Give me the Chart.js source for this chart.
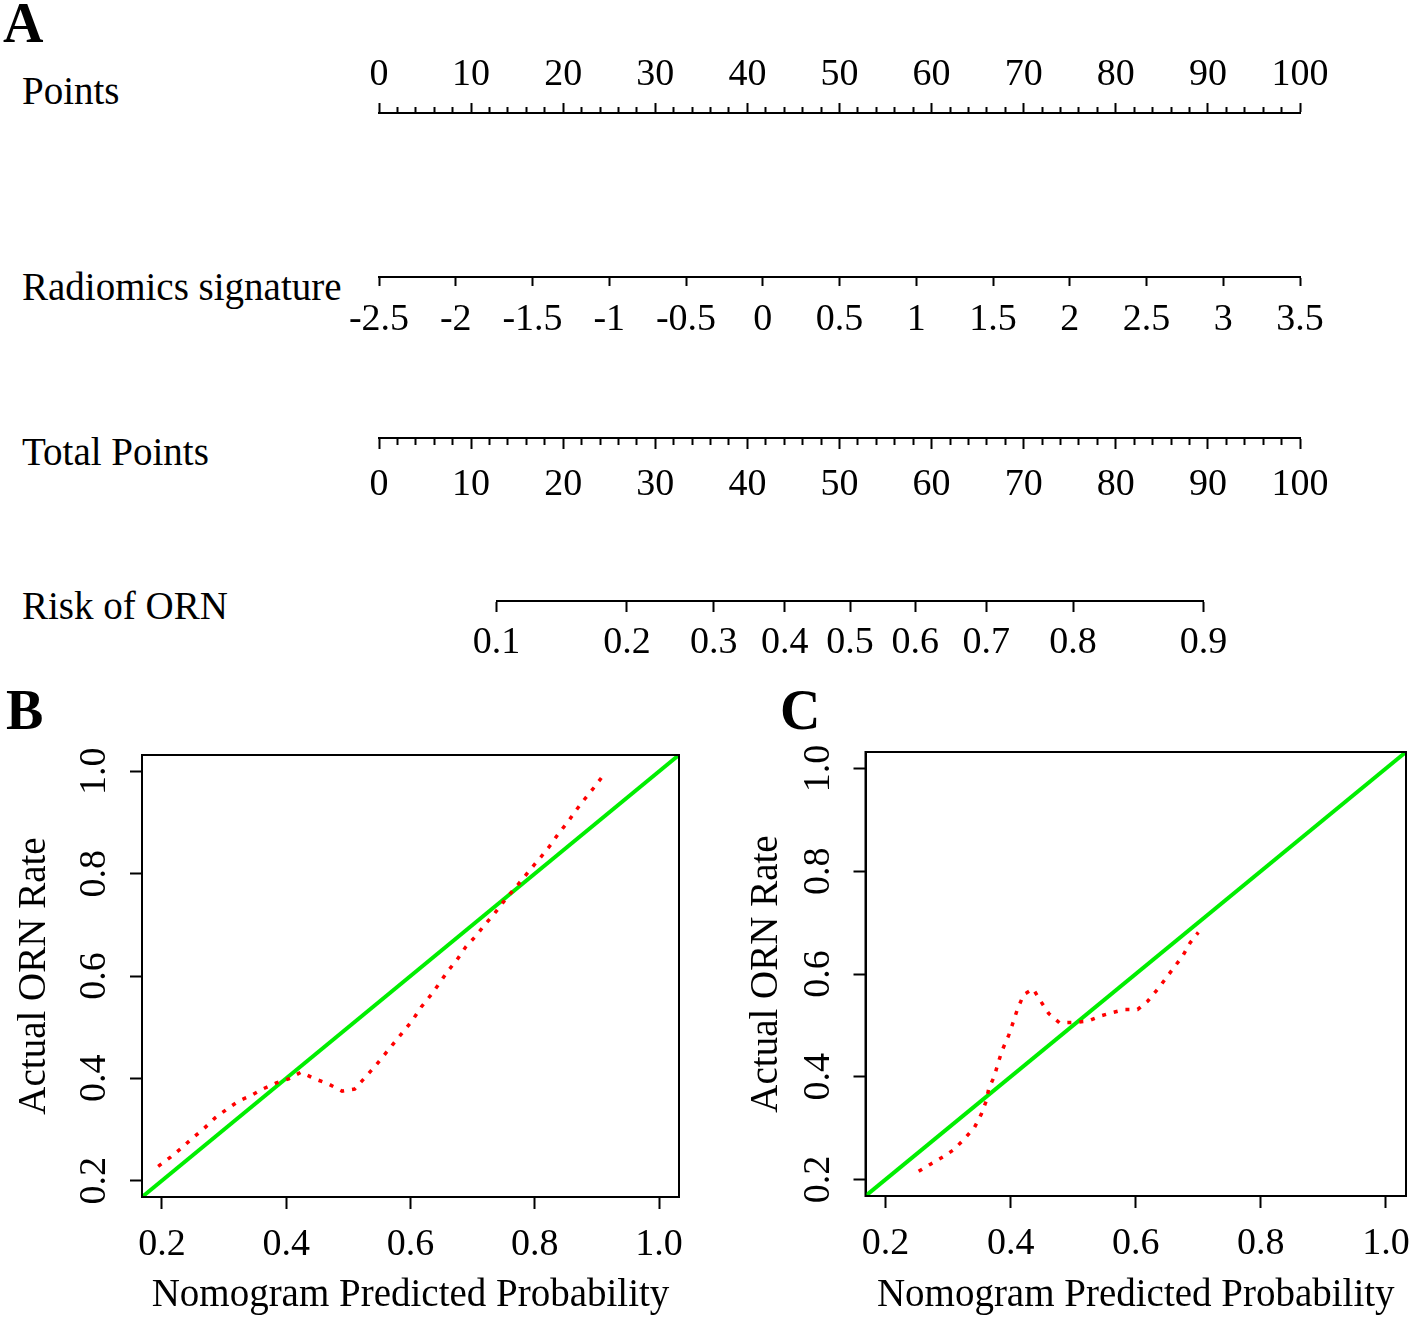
<!DOCTYPE html>
<html>
<head>
<meta charset="utf-8">
<script src="https://cdn.jsdelivr.net/npm/chart.js@4.4.0/dist/chart.umd.min.js"></script>
<style>
html, body { margin: 0; padding: 0; background: #fff; overflow: hidden; width: 1418px; height: 1321px; }
canvas { position: absolute; }
.lbl { position: absolute; font-family: 'Liberation Serif', 'Times New Roman', serif; font-size: 39px; line-height: 39px; color: #000; white-space: nowrap; }
.panel { position: absolute; font-family: 'Liberation Serif', 'Times New Roman', serif; font-weight: bold; font-size: 56px; line-height: 56px; color: #000; }
</style>
</head>
<body>
<div class="panel" style="left:3px;top:-5px;">A</div>
<div class="panel" style="left:6px;top:682px;">B</div>
<div class="panel" style="left:780px;top:682px;">C</div>

<div class="lbl" id="row0" style="left:22px;top:71px;"></div>
<div class="lbl" id="row1" style="left:22px;top:267px;"></div>
<div class="lbl" id="row2" style="left:22px;top:432px;"></div>
<div class="lbl" id="row3" style="left:22px;top:586px;"></div>

<canvas id="cPoints" width="1418" height="80" style="left:0;top:40px;"></canvas>
<canvas id="cRadiomics" width="1418" height="100" style="left:0;top:260px;"></canvas>
<canvas id="cTotal" width="1418" height="100" style="left:0;top:420px;"></canvas>
<canvas id="cRisk" width="1418" height="100" style="left:0;top:580px;"></canvas>
<canvas id="cTrain" width="740" height="580" style="left:0;top:740px;"></canvas>
<canvas id="cValid" width="740" height="580" style="left:720px;top:740px;"></canvas>

<script>
// ---------------- data ----------------
const rowNames = ['Points', 'Radiomics signature', 'Total Points', 'Risk of ORN'];
const pointsTicks = [0, 10, 20, 30, 40, 50, 60, 70, 80, 90, 100];
const radiomicsTicks = [-2.5, -2, -1.5, -1, -0.5, 0, 0.5, 1, 1.5, 2, 2.5, 3, 3.5];
const totalPointsTicks = [0, 10, 20, 30, 40, 50, 60, 70, 80, 90, 100];
const riskTicks = [0.1, 0.2, 0.3, 0.4, 0.5, 0.6, 0.7, 0.8, 0.9];
const calibTicks = [0.2, 0.4, 0.6, 0.8, 1.0];
const idealLine = [0, 1.2];

// Panel B (training cohort) apparent calibration curve
const trainPredicted = [0.194, 0.214, 0.233, 0.250, 0.267, 0.286, 0.305, 0.324, 0.343, 0.362, 0.384, 0.404, 0.424, 0.446, 0.468, 0.490, 0.510, 0.528, 0.544, 0.558, 0.572, 0.587, 0.603, 0.617, 0.633, 0.646, 0.661, 0.675, 0.689, 0.705, 0.720, 0.735, 0.749, 0.764, 0.778, 0.794, 0.810, 0.824, 0.838, 0.853, 0.867, 0.881, 0.897, 0.913];
const trainActual    = [0.228, 0.246, 0.265, 0.284, 0.301, 0.323, 0.340, 0.356, 0.366, 0.379, 0.391, 0.399, 0.412, 0.399, 0.389, 0.375, 0.379, 0.403, 0.425, 0.446, 0.467, 0.489, 0.513, 0.539, 0.563, 0.585, 0.611, 0.632, 0.657, 0.678, 0.701, 0.722, 0.744, 0.766, 0.786, 0.810, 0.833, 0.854, 0.878, 0.901, 0.925, 0.947, 0.971, 0.997];

// Panel C (validation cohort) apparent calibration curve
const validPredicted = [0.253, 0.272, 0.292, 0.309, 0.326, 0.342, 0.353, 0.361, 0.365, 0.374, 0.380, 0.387, 0.397, 0.404, 0.411, 0.421, 0.436, 0.447, 0.461, 0.478, 0.502, 0.523, 0.543, 0.563, 0.583, 0.603, 0.619, 0.638, 0.657, 0.675, 0.687, 0.700];
const validActual    = [0.216, 0.230, 0.244, 0.258, 0.279, 0.301, 0.327, 0.353, 0.377, 0.401, 0.427, 0.453, 0.481, 0.506, 0.532, 0.560, 0.571, 0.549, 0.523, 0.505, 0.506, 0.508, 0.518, 0.525, 0.531, 0.531, 0.547, 0.575, 0.606, 0.635, 0.661, 0.681];

// ---------------- helpers ----------------
const FONT = "'Liberation Serif', 'Times New Roman', serif";
const FSIZE = 38;
const TSIZE = 39;
rowNames.forEach((n, i) => { document.getElementById('row' + i).textContent = n; });

const logit = p => Math.log(p / (1 - p));
const near = (a, b) => Math.abs(a - b) < 1e-9;

function withMinor(majors, step) {
  const out = [];
  const lo = majors[0], hi = majors[majors.length - 1];
  const n = Math.round((hi - lo) / step);
  for (let k = 0; k <= n; k++) out.push(lo + k * step);
  return out;
}

function rowChart(id, cfg) {
  return new Chart(document.getElementById(id), {
    type: 'scatter',
    data: { datasets: [] },
    options: {
      responsive: false, animation: false, events: [],
      layout: { padding: { left: cfg.padLeft, right: cfg.padRight, top: 0, bottom: 0 } },
      plugins: { legend: { display: false }, tooltip: { enabled: false } },
      scales: {
        x: {
          type: 'linear', position: cfg.position, min: cfg.min, max: cfg.max,
          afterBuildTicks: s => { s.ticks = cfg.tickValues.map(v => ({ value: v })); },
          afterFit: s => { s.height = cfg.axisHeight; s.paddingLeft = 0; s.paddingRight = 0; },
          border: { display: true, color: '#000', width: 2 },
          grid: {
            display: true, drawOnChartArea: false, drawTicks: true,
            tickLength: cfg.tickLength, tickColor: '#000', tickWidth: 2,
            tickBorderDash: c => (c.tick && cfg.isMinor(c.tick.value)) ? cfg.minorDash : []
          },
          ticks: {
            autoSkip: false, minRotation: 0, maxRotation: 0, padding: cfg.labelPad,
            color: '#000', font: { family: FONT, size: FSIZE },
            callback: v => cfg.label(v)
          }
        },
        y: { display: false, min: 0, max: 1 }
      }
    }
  });
}

// Points
const pointsAll = withMinor(pointsTicks, 2);
rowChart('cPoints', {
  position: 'top', min: 0, max: 100, padLeft: 379, padRight: 118,
  axisHeight: 73, tickLength: 10, labelPad: 5,
  tickValues: pointsAll,
  isMinor: v => !pointsTicks.some(t => near(t, v)),
  minorDash: [0, 4, 5, 100],
  label: v => pointsTicks.some(t => near(t, v)) ? String(v) : ''
});

// Radiomics signature
rowChart('cRadiomics', {
  position: 'bottom', min: -2.5, max: 3.5, padLeft: 379, padRight: 118,
  axisHeight: 83, tickLength: 9, labelPad: 11,
  tickValues: radiomicsTicks,
  isMinor: v => false, minorDash: [],
  label: v => String(v)
});

// Total Points
const totalAll = withMinor(totalPointsTicks, 2);
rowChart('cTotal', {
  position: 'bottom', min: 0, max: 100, padLeft: 379, padRight: 118,
  axisHeight: 82, tickLength: 11, labelPad: 13,
  tickValues: totalAll,
  isMinor: v => !totalPointsTicks.some(t => near(t, v)),
  minorDash: [6, 100],
  label: v => totalPointsTicks.some(t => near(t, v)) ? String(v) : ''
});

// Risk of ORN (logistic scale)
const riskPos = riskTicks.map(logit);
rowChart('cRisk', {
  position: 'bottom', min: logit(riskTicks[0]), max: logit(riskTicks[riskTicks.length - 1]),
  padLeft: 496.5, padRight: 214.5,
  axisHeight: 79, tickLength: 11, labelPad: 8,
  tickValues: riskPos,
  isMinor: v => false, minorDash: [],
  label: v => { const i = riskPos.findIndex(t => near(t, v)); return i >= 0 ? String(riskTicks[i]) : ''; }
});

// ---------------- calibration plots ----------------
const boxPlugin = {
  id: 'box',
  afterDraw(chart) {
    const { ctx, chartArea: a } = chart;
    ctx.save();
    ctx.strokeStyle = '#000'; ctx.lineWidth = 2;
    ctx.strokeRect(a.left, a.top, a.right - a.left, a.bottom - a.top);
    ctx.restore();
  }
};

function calibChart(id, predicted, actual, g) {
  return new Chart(document.getElementById(id), {
    type: 'scatter',
    data: {
      datasets: [
        {
          label: 'Apparent', order: 0,
          data: predicted.map((x, i) => ({ x: x, y: actual[i] })),
          showLine: true, borderColor: '#ff0000', borderWidth: 3.5, borderDash: [4, 8],
          pointRadius: 0, tension: 0, fill: false
        },
        {
          label: 'Ideal', order: 1,
          data: idealLine.map(v => ({ x: v, y: v })),
          showLine: true, borderColor: '#00ee00', borderWidth: 4,
          pointRadius: 0, tension: 0, fill: false
        }
      ]
    },
    options: {
      responsive: false, animation: false, events: [],
      layout: { padding: { left: g.padLeft, right: g.padRight, top: g.padTop, bottom: 0 } },
      plugins: { legend: { display: false }, tooltip: { enabled: false } },
      scales: {
        x: {
          type: 'linear', position: 'bottom', min: 0.168, max: 1.032,
          afterBuildTicks: s => { s.ticks = calibTicks.map(v => ({ value: v })); },
          afterFit: s => { s.height = g.xHeight; s.paddingLeft = 0; s.paddingRight = 0; },
          border: { display: true, color: '#000', width: 2 },
          grid: { display: true, drawOnChartArea: false, drawTicks: true, tickLength: 12, tickColor: '#000', tickWidth: 2 },
          ticks: { autoSkip: false, minRotation: 0, maxRotation: 0, padding: 13, color: '#000',
                   font: { family: FONT, size: FSIZE }, callback: v => v.toFixed(1) },
          title: { display: true, text: 'Nomogram Predicted Probability', color: '#000',
                   font: { family: FONT, size: TSIZE }, padding: { top: 0, bottom: 0.5 } }
        },
        y: {
          type: 'linear', position: 'left', min: 0.168, max: 1.032,
          afterBuildTicks: s => { s.ticks = calibTicks.map(v => ({ value: v })); },
          afterCalculateLabelRotation: s => { s.labelRotation = 90; },
          afterFit: s => { s.width = g.yWidth; s.paddingTop = 0; s.paddingBottom = 0; },
          border: { display: true, color: '#000', width: 2 },
          grid: { display: true, drawOnChartArea: false, drawTicks: true, tickLength: 12, tickColor: '#000', tickWidth: 2 },
          ticks: { autoSkip: false, minRotation: 90, maxRotation: 90, crossAlign: 'center', padding: 11, color: '#000',
                   font: { family: FONT, size: FSIZE }, callback: v => v.toFixed(1) },
          title: { display: true, text: 'Actual ORN Rate', color: '#000',
                   font: { family: FONT, size: TSIZE }, padding: { top: 11.6, bottom: 0 } }
        }
      }
    },
    plugins: [boxPlugin]
  });
}

calibChart('cTrain', trainPredicted, trainActual, { padLeft: 0, padRight: 61, padTop: 15, xHeight: 123, yWidth: 142 });
calibChart('cValid', validPredicted, validActual, { padLeft: 11.8, padRight: 54, padTop: 12, xHeight: 124, yWidth: 133.7 });
</script>
</body>
</html>
